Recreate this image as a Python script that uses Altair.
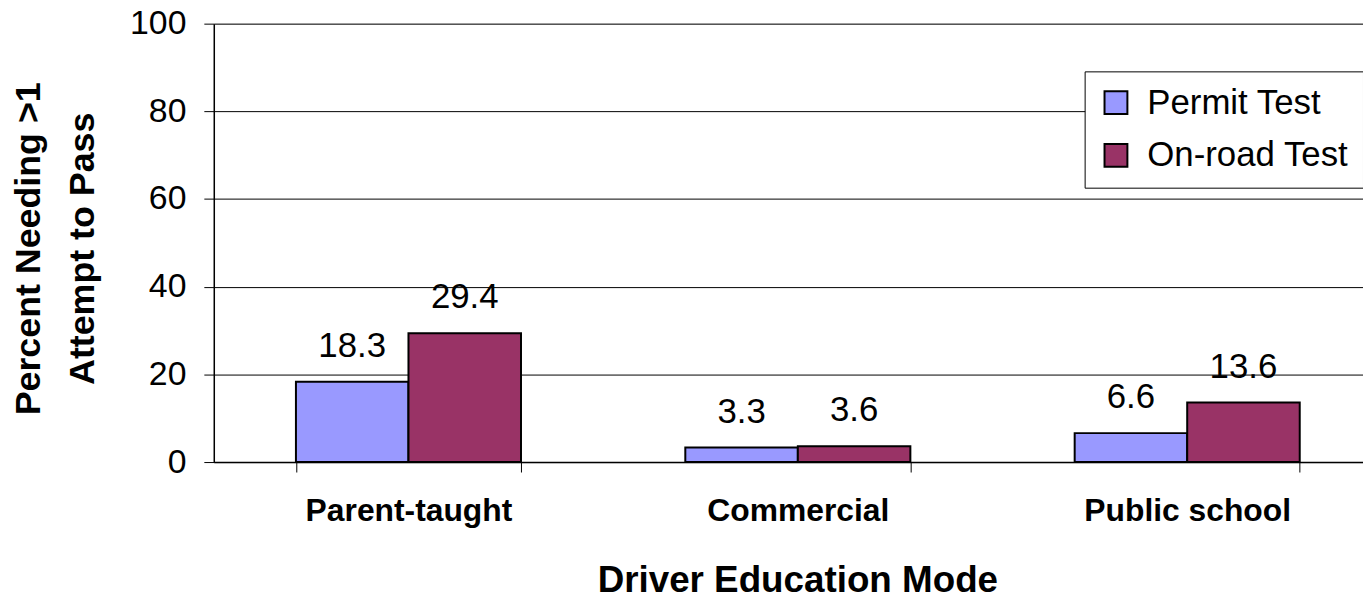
import altair as alt
import pandas as pd

categories = ["Parent-taught", "Commercial", "Public school"]
series = ["Permit Test", "On-road Test"]
permit_values = [18.3, 3.3, 6.6]
onroad_values = [29.4, 3.6, 13.6]
colors = ["#9999FF", "#993366"]
y_ticks = [0, 20, 40, 60, 80, 100]

rows = []
for c, p, o in zip(categories, permit_values, onroad_values):
    rows.append({"mode": c, "test": series[0], "value": p})
    rows.append({"mode": c, "test": series[1], "value": o})
df = pd.DataFrame(rows)

FONT = "Liberation Sans"

x_enc = alt.X(
    "mode:N",
    sort=categories,
    scale=alt.Scale(range=[0, 1175], paddingInner=0.422, paddingOuter=0.211),
    axis=alt.Axis(
        title="Driver Education Mode",
        titleFont=FONT,
        titleFontSize=37,
        titleFontWeight="bold",
        titleColor="#000",
        titleX=587,
        titleY=101,
        titleBaseline="top",
        titleAlign="center",
        labelFont=FONT,
        labelFontSize=32,
        labelFontWeight="bold",
        labelColor="#000",
        labelAngle=0,
        labelPadding=24,
        labelBaseline="top",
        labelLimit=0,
        tickBand="extent",
        tickSize=10,
        tickColor="#000",
        domainColor="#000",
        domainWidth=1.5,
        grid=False,
    ),
)

y_enc = alt.Y(
    "value:Q",
    scale=alt.Scale(domain=[0, 100]),
    axis=alt.Axis(
        values=y_ticks,
        title=["Percent Needing >1", "Attempt to Pass"],
        titleFont=FONT,
        titleFontSize=36,
        titleFontWeight="bold",
        titleColor="#000",
        titleAngle=-90,
        titleX=-203,
        titleY=226,
        titleBaseline="top",
        titleAlign="center",
        titleLineHeight=54,
        labelFont=FONT,
        labelFontSize=34,
        labelColor="#000",
        labelPadding=18,
        tickSize=10,
        tickColor="#000",
        domainColor="#000",
        domainWidth=1.5,
        gridColor="#000",
        gridWidth=1,
    ),
)

bars = alt.Chart(df).mark_bar(stroke="#000", strokeWidth=2).encode(
    x=x_enc,
    xOffset=alt.XOffset("test:N", sort=series),
    y=y_enc,
    color=alt.Color(
        "test:N",
        sort=series,
        scale=alt.Scale(domain=series, range=colors),
        legend=alt.Legend(
            title=None,
            orient="none",
            legendX=876,
            legendY=48,
            direction="vertical",
            symbolType="square",
            symbolSize=529,
            symbolStrokeColor="#000",
            symbolStrokeWidth=2,
            labelFont=FONT,
            labelFontSize=35,
            labelColor="#000",
            labelOffset=14,
            rowPadding=17,
            padding=14,
            strokeColor="#000",
            fillColor="#fff",
            labelLimit=400,
        ),
    ),
)

labels = alt.Chart(df).mark_text(
    dy=-25, baseline="alphabetic", font=FONT, fontSize=35, color="#000"
).encode(
    x=alt.X("mode:N", sort=categories),
    xOffset=alt.XOffset("test:N", sort=series),
    y=alt.Y("value:Q"),
    text=alt.Text("value:Q", format=".1f"),
)

chart = (
    alt.layer(bars, labels)
    .properties(
        width=1156,
        height=441,
        autosize=alt.AutoSizeParams(type="none"),
        padding={"left": 207, "top": 14, "right": 0, "bottom": 136},
    )
    .configure_view(stroke=None)
    .configure(background="#ffffff")
)

chart.save("out.html", embed_options={"renderer": "svg", "actions": False})
